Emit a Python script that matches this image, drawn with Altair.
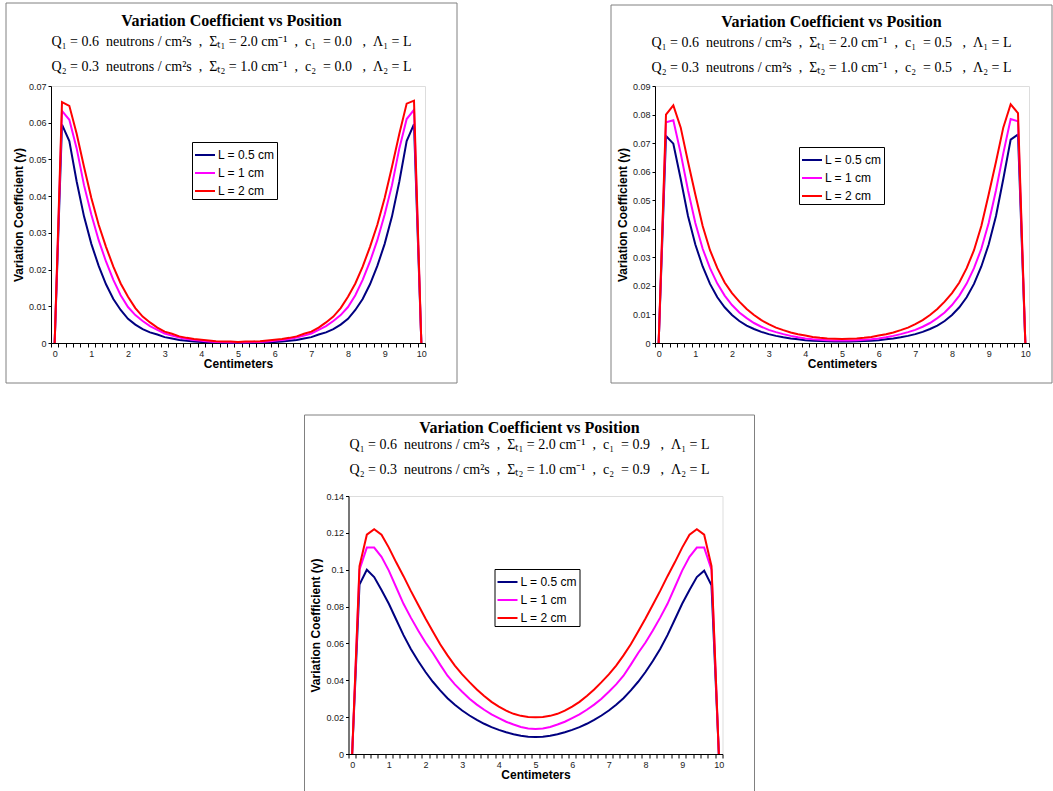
import altair as alt
import pandas as pd

# ---------------- data ----------------
X_CM = [round(0.2 * i, 1) for i in range(51)]
SERIES = ["L = 0.5 cm", "L = 1 cm", "L = 2 cm"]
COLORS = ["#000080", "#FF00FF", "#FF0000"]

# Panel 1: c1 = c2 = 0.0
P1_L05 = [0, 0.0595, 0.0550, 0.0440, 0.0345, 0.0270, 0.0210, 0.0160, 0.0120, 0.0090, 0.0066, 0.0050, 0.0038,
          0.0029, 0.0023, 0.0016, 0.0012, 0.0008, 0.0006, 0.0004, 0.0003, 0.0002, 0.0002, 0.0001, 0.0001, 0.0001,
          0.0001, 0.0001, 0.0002, 0.0002, 0.0003, 0.0004, 0.0006, 0.0008, 0.0012, 0.0016, 0.0023, 0.0029, 0.0038,
          0.0050, 0.0066, 0.0090, 0.0120, 0.0160, 0.0210, 0.0270, 0.0345, 0.0440, 0.0550, 0.0596, 0]
P1_L1 = [0, 0.0632, 0.0608, 0.0530, 0.0430, 0.0350, 0.0280, 0.0222, 0.0172, 0.0130, 0.0098, 0.0076, 0.0060,
         0.0046, 0.0036, 0.0026, 0.0020, 0.0015, 0.0011, 0.0008, 0.0006, 0.0004, 0.0003, 0.0003, 0.0002, 0.0002,
         0.0002, 0.0003, 0.0003, 0.0004, 0.0006, 0.0008, 0.0011, 0.0015, 0.0020, 0.0026, 0.0036, 0.0046, 0.0060,
         0.0076, 0.0098, 0.0130, 0.0172, 0.0222, 0.0280, 0.0350, 0.0430, 0.0530, 0.0610, 0.0635, 0]
P1_L2 = [0, 0.0656, 0.0646, 0.0570, 0.0480, 0.0395, 0.0322, 0.0262, 0.0208, 0.0162, 0.0126, 0.0095, 0.0072,
         0.0056, 0.0042, 0.0031, 0.0025, 0.0018, 0.0014, 0.0011, 0.0009, 0.0007, 0.0005, 0.0004, 0.0004, 0.0003,
         0.0004, 0.0004, 0.0005, 0.0007, 0.0009, 0.0011, 0.0014, 0.0018, 0.0025, 0.0031, 0.0042, 0.0056, 0.0072,
         0.0095, 0.0126, 0.0162, 0.0208, 0.0262, 0.0322, 0.0395, 0.0480, 0.0570, 0.0652, 0.0660, 0]

# Panel 2: c1 = c2 = 0.5
P2_L05 = [0, 0.0725, 0.0698, 0.0575, 0.0445, 0.0345, 0.0268, 0.0207, 0.0160, 0.0125, 0.0098, 0.0077, 0.0061,
          0.0049, 0.0039, 0.0031, 0.0025, 0.0020, 0.0016, 0.0013, 0.0010, 0.0008, 0.0007, 0.0006, 0.0005, 0.0005,
          0.0005, 0.0006, 0.0007, 0.0008, 0.0010, 0.0013, 0.0016, 0.0020, 0.0025, 0.0031, 0.0039, 0.0049, 0.0061,
          0.0077, 0.0098, 0.0125, 0.0160, 0.0207, 0.0268, 0.0345, 0.0445, 0.0575, 0.0712, 0.0730, 0]
P2_L1 = [0, 0.0773, 0.0780, 0.0665, 0.0535, 0.0420, 0.0330, 0.0262, 0.0208, 0.0166, 0.0133, 0.0107, 0.0087,
         0.0070, 0.0057, 0.0046, 0.0038, 0.0031, 0.0025, 0.0020, 0.0016, 0.0013, 0.0011, 0.0010, 0.0009, 0.0009,
         0.0009, 0.0010, 0.0011, 0.0013, 0.0016, 0.0020, 0.0025, 0.0031, 0.0038, 0.0046, 0.0057, 0.0070, 0.0087,
         0.0107, 0.0133, 0.0166, 0.0208, 0.0262, 0.0330, 0.0420, 0.0535, 0.0665, 0.0784, 0.0776, 0]
P2_L2 = [0, 0.0800, 0.0832, 0.0755, 0.0635, 0.0520, 0.0410, 0.0325, 0.0262, 0.0212, 0.0175, 0.0145, 0.0119,
         0.0098, 0.0080, 0.0066, 0.0054, 0.0045, 0.0037, 0.0031, 0.0026, 0.0021, 0.0018, 0.0016, 0.0015, 0.0014,
         0.0015, 0.0016, 0.0018, 0.0021, 0.0026, 0.0031, 0.0037, 0.0045, 0.0054, 0.0066, 0.0080, 0.0098, 0.0119,
         0.0145, 0.0175, 0.0212, 0.0262, 0.0325, 0.0410, 0.0520, 0.0635, 0.0755, 0.0836, 0.0805, 0]

# Panel 3: c1 = c2 = 0.9
P3_L05 = [0, 0.0920, 0.1000, 0.0960, 0.0890, 0.0815, 0.0730, 0.0645, 0.0570, 0.0505, 0.0445, 0.0392, 0.0345,
          0.0303, 0.0267, 0.0236, 0.0209, 0.0185, 0.0164, 0.0146, 0.0131, 0.0118, 0.0107, 0.0099, 0.0094, 0.0092,
          0.0094, 0.0099, 0.0107, 0.0118, 0.0131, 0.0146, 0.0164, 0.0185, 0.0209, 0.0236, 0.0267, 0.0303, 0.0345,
          0.0392, 0.0445, 0.0505, 0.0570, 0.0645, 0.0730, 0.0815, 0.0890, 0.0960, 0.0995, 0.0915, 0]
P3_L1 = [0, 0.1000, 0.1120, 0.1120, 0.1070, 0.0995, 0.0905, 0.0815, 0.0740, 0.0670, 0.0605, 0.0548, 0.0485,
         0.0425, 0.0378, 0.0338, 0.0300, 0.0268, 0.0240, 0.0215, 0.0195, 0.0175, 0.0160, 0.0147, 0.0139, 0.0136,
         0.0139, 0.0147, 0.0160, 0.0175, 0.0195, 0.0215, 0.0240, 0.0268, 0.0300, 0.0338, 0.0378, 0.0425, 0.0485,
         0.0548, 0.0605, 0.0670, 0.0740, 0.0815, 0.0905, 0.0995, 0.1070, 0.1120, 0.1120, 0.1000, 0]
P3_L2 = [0, 0.1020, 0.1190, 0.1220, 0.1190, 0.1120, 0.1040, 0.0965, 0.0885, 0.0810, 0.0735, 0.0665, 0.0595,
         0.0535, 0.0480, 0.0432, 0.0390, 0.0350, 0.0315, 0.0283, 0.0257, 0.0235, 0.0218, 0.0207, 0.0201, 0.0200,
         0.0201, 0.0207, 0.0218, 0.0235, 0.0257, 0.0283, 0.0315, 0.0350, 0.0390, 0.0432, 0.0480, 0.0535, 0.0595,
         0.0665, 0.0735, 0.0810, 0.0885, 0.0965, 0.1040, 0.1120, 0.1190, 0.1220, 0.1190, 0.1020, 0]

TITLE = "Variation Coefficient vs Position"
SP = "\u00a0"
C_VALUES = ["0.0", "0.5", "0.9"]


def sub_line(idx, q, sig, c):
    s = "\u2081" if idx == 1 else "\u2082"
    return (f"Q{s} = {q}{SP}{SP}neutrons / cm\u00b2s{SP}{SP},{SP}{SP}\u03a3\u209c{s} = {sig} cm\u207b\u00b9{SP}{SP},"
            f"{SP}{SP}c{s}{SP}{SP}= {c}{SP}{SP}{SP},{SP}{SP}\u039b{s} = L")


SUB1 = [sub_line(1, "0.6", "2.0", c) for c in C_VALUES]
SUB2 = [sub_line(2, "0.3", "1.0", c) for c in C_VALUES]

W = 374
SANS = "Liberation Sans"
SERIF = "Liberation Serif"


def make_panel(series_vals, ymax, ystep, sub1, sub2, H, left_m, right_m, top_m, leg_xy, title_ys):
    rows = []
    for name, vals in zip(SERIES, series_vals):
        for x, v in zip(X_CM, vals):
            rows.append({"x": x, "v": v, "s": name})
    df = pd.DataFrame(rows)
    one = pd.DataFrame({"k": [0]})

    px = W / 10.2
    ticks = [round(-0.1 + 0.2 * k, 1) for k in range(52)]
    n = int(round(ymax / ystep))
    yvals = [round(ystep * i, 2) for i in range(n + 1)]

    x_axis = alt.Axis(
        values=ticks,
        labelExpr="round((datum.value + 0.1) * 5) % 5 == 0 ? format(round(datum.value + 0.1), 'd') : ''",
        labelOffset=px * 0.1, labelFlush=False, labelOverlap=False,
        tickSize=4, tickColor="black", domainColor="black", grid=False,
        labelFont=SANS, labelFontSize=9, labelColor="#222222", labelPadding=2,
        titleFont=SANS, titleFontSize=12, titleFontWeight="bold", titleColor="black", titlePadding=0,
    )
    y_axis = alt.Axis(
        values=yvals, format=".2~f",
        tickSize=3, tickColor="black", domainColor="black", grid=False,
        labelFont=SANS, labelFontSize=9, labelColor="#222222", labelPadding=2,
        titleFont=SANS, titleFontSize=12, titleFontWeight="bold", titleColor="black", titlePadding=3,
    )

    lines = alt.Chart(df).mark_line(strokeWidth=2).encode(
        x=alt.X("x:Q", scale=alt.Scale(domain=[-0.1, 10.1], nice=False, zero=False), axis=x_axis,
                title="Centimeters"),
        y=alt.Y("v:Q", scale=alt.Scale(domain=[0, ymax], nice=False), axis=y_axis,
                title="Variation Coefficient (\u03b3)"),
        color=alt.Color("s:N", scale=alt.Scale(domain=SERIES, range=COLORS), title=None,
                        legend=alt.Legend(orient="none", legendX=leg_xy[0], legendY=leg_xy[1],
                                          symbolType="stroke", symbolSize=400, symbolStrokeWidth=2,
                                          labelFont=SANS, labelFontSize=12, labelColor="black",
                                          labelOffset=2, strokeColor="black", fillColor="white",
                                          padding=2, rowPadding=1)),
        detail="s:N",
    )

    box = alt.Chart(one).mark_rect(fill="white", fillOpacity=0, stroke="#808080", strokeWidth=1).encode(
        x=alt.value(-left_m), x2=alt.value(W + right_m), y=alt.value(-top_m), y2=alt.value(H + 40)
    )
    cx = (W + right_m - left_m) / 2
    t0 = alt.Chart(one).mark_text(text=TITLE, font=SERIF, fontSize=16, fontWeight="bold", color="black",
                                  align="center", baseline="middle").encode(
        x=alt.value(cx), y=alt.value(title_ys[0]))
    t1 = alt.Chart(one).mark_text(text=sub1, font=SERIF, fontSize=14, color="black",
                                  align="center", baseline="middle").encode(
        x=alt.value(cx), y=alt.value(title_ys[1]))
    t2 = alt.Chart(one).mark_text(text=sub2, font=SERIF, fontSize=14, color="black",
                                  align="center", baseline="middle").encode(
        x=alt.value(cx), y=alt.value(title_ys[2]))

    return alt.layer(box, lines, t0, t1, t2).properties(width=W, height=H)


p1 = make_panel([P1_L05, P1_L1, P1_L2], 0.07, 0.01, SUB1[0], SUB2[0], 257, 45, 32, 83,
                (141, 56), (-65, -44, -19))
p2 = make_panel([P2_L05, P2_L1, P2_L2], 0.09, 0.01, SUB1[1], SUB2[1], 257, 44, 23, 81,
                (144, 61), (-64, -43, -18))
p3 = make_panel([P3_L05, P3_L1, P3_L2], 0.14, 0.02, SUB1[2], SUB2[2], 258, 44, 32, 81,
                (146, 73), (-68, -51, -26))

top = alt.hconcat(p1, p2, spacing=152).resolve_scale(
    color="independent", x="independent", y="independent").resolve_legend(color="independent")

chart = alt.vconcat(top, p3, spacing=30, center=True).resolve_scale(
    color="independent", x="independent", y="independent").resolve_legend(color="independent").properties(
    padding={"left": 5, "top": 2, "right": 0, "bottom": 0}
).configure_view(stroke="transparent").configure(background="white")

chart.save("out.html", embed_options={"renderer": "svg", "actions": False})
